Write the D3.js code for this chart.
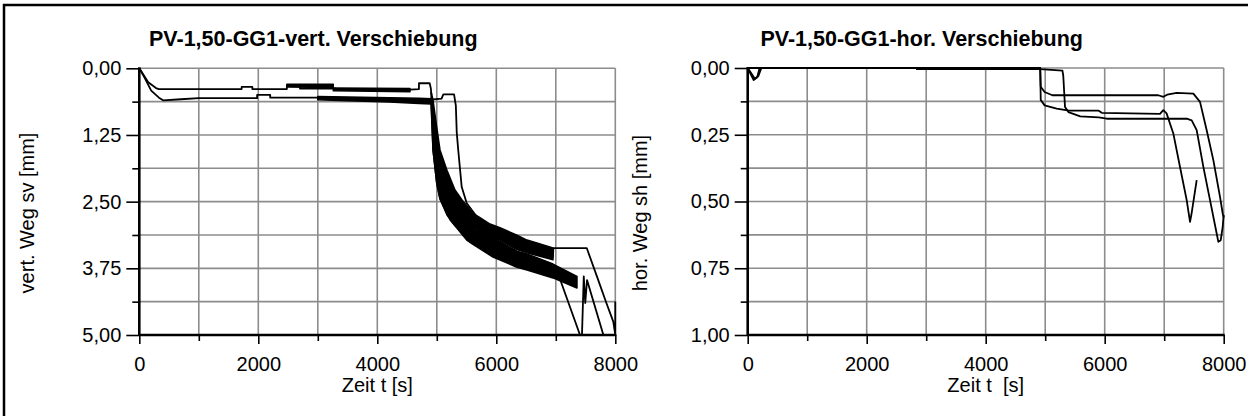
<!DOCTYPE html>
<html>
<head>
<meta charset="utf-8">
<script src="https://cdn.jsdelivr.net/npm/d3@7"></script>
<style>
  body { margin: 0; background: #fff; }
  svg { display: block; }
  text { font-family: Arial, "Liberation Sans", sans-serif; fill: #000; }
</style>
</head>
<body>
<svg id="chart" width="1248" height="416"></svg>
<script>
// ---- axis ticks ----
const timeTicks = [0, 2000, 4000, 6000, 8000];
const timeMinorTicks = [1000, 3000, 5000, 7000];
const vertTicks = [0, 1.25, 2.5, 3.75, 5];
const vertMinorTicks = [0.625, 1.875, 3.125, 4.375];
const horTicks = [0, 0.25, 0.5, 0.75, 1];
const horMinorTicks = [0.125, 0.375, 0.625, 0.875];

// ---- vertical displacement sv [mm] over time t [s] ----
// single traces: [t, sv]
const vertLineA = [[0,0],[70,0.12],[150,0.26],[280,0.37],[330,0.39],[1720,0.39],[1720,0.35],[1900,0.35],[1900,0.39],[2480,0.39],[2480,0.33],[2700,0.33],[2700,0.38],[3300,0.38],[3300,0.40],[4550,0.40],[4700,0.39],[4700,0.28],[4880,0.28],[4900,0.38],[4910,0.5]];
const vertLineB = [[0,0],[90,0.18],[200,0.42],[330,0.55],[400,0.6],[700,0.58],[1000,0.56],[1700,0.56],[1980,0.56],[1980,0.5],[2200,0.5],[2200,0.55],[3000,0.55]];
const vertLineC = [[4700,0.6],[4880,0.59],[5080,0.57],[5110,0.49],[5290,0.49],[5320,0.7],[5335,1.2],[5360,1.53],[5418,2.22],[5503,2.53],[5670,2.78],[5800,2.9]];
const vertTailA = [[6950,3.55],[6960,3.37],[7520,3.37],[7700,3.93],[7850,4.4],[7966,4.75],[8000,5.0],[8000,4.37]];
const vertTailB = [[7070,3.95],[7407,5.0],[7440,5.0],[7470,3.9],[7495,4.4],[7525,3.97],[7800,5.0]];
// cyclic load phases drawn as envelopes: [t, upper sv, lower sv]
const vertBandFlatA = [[2480,0.30,0.35],[3260,0.30,0.36]];
const vertBandFlatA2 = [[3260,0.37,0.42],[4550,0.38,0.44]];
const vertBandFlatB = [[3000,0.53,0.59],[3500,0.54,0.61],[4200,0.55,0.63],[4700,0.56,0.66],[4910,0.57,0.67]];
const vertBandA = [[4905,0.45,0.62],[4936,0.59,1.53],[4998,1.10,2.15],[5054,1.53,2.45],[5171,1.91,2.75],[5306,2.28,2.95],[5424,2.47,3.0],[5608,2.72,3.0],[5726,2.80,3.06],[5894,2.92,3.14],[6062,2.99,3.22],[6348,3.13,3.40],[6516,3.22,3.46],[6750,3.30,3.53],[6953,3.37,3.59]];
const vertBandB = [[4902,0.59,0.62],[4936,0.8,1.53],[4998,1.3,2.15],[5054,1.7,2.45],[5222,2.2,2.84],[5503,2.6,3.22],[5608,3.02,3.30],[5945,3.17,3.54],[6348,3.43,3.73],[6516,3.48,3.78],[6953,3.67,3.93],[7356,3.9,4.12]];

// ---- horizontal displacement sh [mm] over time t [s] ----
const horLineA = [[0,0],[60,0.02],[120,0.04],[180,0.03],[230,0],[4916,0],[4925,0.07],[4990,0.09],[5120,0.102],[6900,0.102],[6985,0.108],[7050,0.1],[7210,0.093],[7490,0.096],[7602,0.127],[7714,0.233],[7826,0.345],[7938,0.483],[7983,0.545],[8000,0.56]];
const horLineB = [[0,0],[100,0.045],[160,0.035],[200,0],[4916,0],[4925,0.12],[4990,0.14],[5193,0.152],[5400,0.16],[5900,0.16],[5950,0.168],[6929,0.172],[6985,0.158],[7040,0.17],[7153,0.245],[7265,0.37],[7378,0.495],[7434,0.576],[7460,0.545],[7546,0.42]];
const horLineC = [[0,0],[2840,0],[2840,0.004],[4916,0.004],[5290,0.01],[5304,0.03],[5333,0.146],[5390,0.165],[5590,0.181],[5900,0.185],[6034,0.19],[7378,0.19],[7462,0.196],[7546,0.233],[7658,0.37],[7770,0.495],[7882,0.62],[7910,0.651],[7950,0.645],[7983,0.595],[8000,0.55]];

const decimalComma = v => d3.format(".2f")(v).replace(".", ",");

const svg = d3.select("#chart");
svg.append("rect").attr("width", 1248).attr("height", 416).attr("fill", "#fff");

// outer frame
svg.append("path")
  .attr("d", "M4,416V5H1248")
  .attr("fill", "none").attr("stroke", "#000").attr("stroke-width", 2.5);

function drawPanel(cfg) {
  const x = d3.scaleLinear().domain([0, 8000]).range([cfg.left, cfg.right]);
  const y = d3.scaleLinear().domain([0, cfg.yMax]).range([cfg.top, cfg.bottom]);
  const g = svg.append("g");

  // grid
  const gridX = timeTicks.concat(timeMinorTicks).filter(d => d > 0);
  g.selectAll(null).data(gridX).join("line")
    .attr("x1", d => x(d)).attr("x2", d => x(d))
    .attr("y1", cfg.top).attr("y2", cfg.bottom)
    .attr("stroke", "#8c8c8c").attr("stroke-width", 1.6);
  const gridY = cfg.yTicks.concat(cfg.yMinor).filter(d => d < cfg.yMax);
  g.selectAll(null).data(gridY).join("line")
    .attr("x1", cfg.left).attr("x2", cfg.right)
    .attr("y1", d => y(d)).attr("y2", d => y(d))
    .attr("stroke", "#8c8c8c").attr("stroke-width", 1.6);

  // data
  const clipId = cfg.id + "-clip";
  g.append("clipPath").attr("id", clipId).append("rect")
    .attr("x", cfg.left - 1).attr("y", cfg.top - 2)
    .attr("width", cfg.right - cfg.left + 3).attr("height", cfg.bottom - cfg.top + 2);
  const data = g.append("g").attr("clip-path", `url(#${clipId})`);
  const area = d3.area().x(d => x(d[0])).y0(d => y(d[1])).y1(d => y(d[2]));
  (cfg.bands || []).forEach(b => {
    data.append("path").datum(b).attr("d", area)
      .attr("fill", "#000").attr("stroke", "#000").attr("stroke-width", 1.5)
      .attr("stroke-linejoin", "round");
  });
  const line = d3.line().x(d => x(d[0])).y(d => y(d[1]));
  cfg.lines.forEach(l => {
    data.append("path").datum(l).attr("d", line)
      .attr("fill", "none").attr("stroke", "#000").attr("stroke-width", 1.8)
      .attr("stroke-linejoin", "round");
  });

  // axes
  const yAxis = d3.axisLeft(y).tickValues(cfg.yTicks).tickSize(13).tickPadding(5).tickFormat(decimalComma);
  const ya = g.append("g").attr("transform", `translate(${cfg.left},0)`).call(yAxis);
  const yMinorAxis = d3.axisLeft(y).tickValues(cfg.yMinor).tickSize(7).tickFormat("");
  const ym = g.append("g").attr("transform", `translate(${cfg.left},0)`).call(yMinorAxis);
  const xAxis = d3.axisBottom(x).tickValues(timeTicks).tickSize(9).tickPadding(13).tickFormat(d3.format("d"));
  const xa = g.append("g").attr("transform", `translate(0,${cfg.bottom})`).call(xAxis);
  const xMinorAxis = d3.axisBottom(x).tickValues(timeMinorTicks).tickSize(6).tickFormat("");
  const xm = g.append("g").attr("transform", `translate(0,${cfg.bottom})`).call(xMinorAxis);
  [ya, ym, xa, xm].forEach(a => {
    a.select(".domain").remove();
    a.selectAll(".tick line").attr("stroke", "#000").attr("stroke-width", 1.6);
    a.selectAll("text").attr("font-size", 20).attr("font-family", "Arial, 'Liberation Sans', sans-serif");
  });
  // heavy axis lines
  g.append("line").attr("x1", cfg.left).attr("x2", cfg.left).attr("y1", cfg.top - 1).attr("y2", cfg.bottom + 1)
    .attr("stroke", "#000").attr("stroke-width", 2.6);
  g.append("line").attr("x1", cfg.left).attr("x2", cfg.right + 1).attr("y1", cfg.bottom).attr("y2", cfg.bottom)
    .attr("stroke", "#000").attr("stroke-width", 2.6);

  // titles
  g.append("text").attr("x", (cfg.left + cfg.right) / 2 - 64).attr("y", 46)
    .attr("text-anchor", "middle").attr("font-size", 21.5).attr("font-weight", "bold")
    .text(cfg.title);
  g.append("text").attr("x", (cfg.left + cfg.right) / 2).attr("y", 392)
    .attr("text-anchor", "middle").attr("font-size", 20)
    .style("white-space", "pre")
    .text(cfg.xLabel);
  g.append("text").attr("transform", `translate(${cfg.yLabelX},213) rotate(-90)`)
    .attr("text-anchor", "middle").attr("font-size", 20)
    .text(cfg.yLabel);
}

drawPanel({
  id: "vert", left: 139.3, right: 615.3, top: 68.3, bottom: 335, yMax: 5,
  yTicks: vertTicks, yMinor: vertMinorTicks,
  title: "PV-1,50-GG1-vert. Verschiebung", xLabel: "Zeit t [s]", yLabel: "vert. Weg sv [mm]", yLabelX: 34,
  bands: [vertBandFlatA, vertBandFlatA2, vertBandFlatB, vertBandA, vertBandB],
  lines: [vertLineA, vertLineB, vertLineC, vertTailA, vertTailB]
});
drawPanel({
  id: "hor", left: 747.7, right: 1223.7, top: 68, bottom: 335, yMax: 1,
  yTicks: horTicks, yMinor: horMinorTicks,
  title: "PV-1,50-GG1-hor. Verschiebung", xLabel: "Zeit t  [s]", yLabel: "hor. Weg sh [mm]", yLabelX: 647,
  bands: [],
  lines: [horLineA, horLineB, horLineC]
});
</script>
</body>
</html>
